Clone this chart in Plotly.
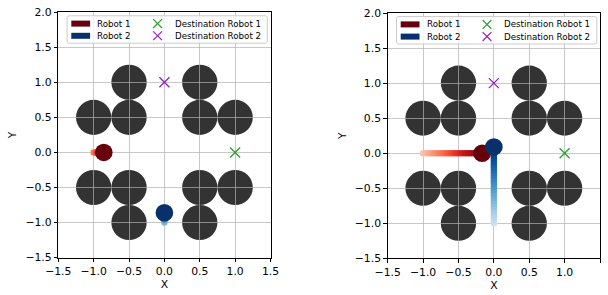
import plotly.graph_objects as go
from plotly.colors import sample_colorscale, sequential

# ---------------- data ----------------
obstacle_x = [-1.0, -0.5, -0.5, 0.5, 0.5, 1.0, -1.0, -0.5, -0.5, 0.5, 0.5, 1.0]
obstacle_y = [0.5, 0.5, 1.0, 1.0, 0.5, 0.5, -0.5, -0.5, -1.0, -1.0, -0.5, -0.5]
obstacle_r = 0.25
robot_r = 0.125

dest1 = (1.0, 0.0)
dest2 = (0.0, 1.0)

# snapshot 1 (left)
r1_left_x = [-1.0, -0.965, -0.93, -0.895, -0.857]
r1_left_y = [0.0, 0.0, 0.0, 0.0, 0.0]
r2_left_x = [0.0, 0.0, 0.0, 0.0, 0.0]
r2_left_y = [-1.0, -0.965, -0.93, -0.895, -0.86]

# snapshot 2 (right)
r1_right_x = [-1.0, -0.96, -0.92, -0.88, -0.84, -0.80, -0.76, -0.72, -0.68, -0.64, -0.60,
              -0.56, -0.52, -0.48, -0.44, -0.40, -0.36, -0.32, -0.28, -0.24, -0.20, -0.166]
r1_right_y = [0.0] * len(r1_right_x)
r2_right_y = [-1.0, -0.96, -0.92, -0.88, -0.84, -0.80, -0.76, -0.72, -0.68, -0.64, -0.60,
              -0.56, -0.52, -0.48, -0.44, -0.40, -0.36, -0.32, -0.28, -0.24, -0.20, -0.16,
              -0.12, -0.08, -0.04, 0.0, 0.04, 0.09]
r2_right_x = [0.0] * len(r2_right_y)

x_ticks = [-1.5, -1.0, -0.5, 0.0, 0.5, 1.0, 1.5]
y_ticks = [-1.5, -1.0, -0.5, 0.0, 0.5, 1.0, 1.5, 2.0]
legend_labels = ["Robot 1", "Robot 2", "Destination Robot 1", "Destination Robot 2"]

# ---------------- style ----------------
W, H = 608, 295
FONT = "DejaVu Sans"
RED_DARK = "#67000d"
BLUE_DARK = "#08306b"
GREEN = "#2ca02c"
PURPLE = "#9a1fc0"
OBST = "rgba(0,0,0,0.8)"
GRID = "rgba(176,176,176,0.7)"
TICK_SIZE = 10.8

areas = [
    (58.3, 12.2, 270.5, 257.6),
    (387.7, 13.0, 600.0, 258.4),
]

def fmt(v):
    return f"{v:.1f}".replace("-", "\u2212")

def px(x):
    return x / W

def py(y):
    return 1 - y / H

fig = go.Figure()

snapshots = [
    (r1_left_x, r1_left_y, r2_left_x, r2_left_y, 0.45),
    (r1_right_x, r1_right_y, r2_right_x, r2_right_y, 0.22),
]

shapes = []
annotations = []

for i, (area, snap) in enumerate(zip(areas, snapshots)):
    ax = "" if i == 0 else str(i + 1)
    xref, yref = "x" + ax, "y" + ax
    x0, y0, x1, y1 = area
    fig.layout["xaxis" + ax] = dict(
        domain=[px(x0), px(x1)], range=[-1.5, 1.5], anchor=yref, automargin=False,
        tickvals=x_ticks, ticktext=[fmt(v) for v in x_ticks],
        showgrid=True, gridcolor=GRID, gridwidth=0.8, zeroline=False,
        showline=True, mirror=True, linecolor="black", linewidth=0.8,
        ticks="outside", ticklen=3.6, tickwidth=0.8, tickcolor="black",
        tickfont=dict(family=FONT, size=TICK_SIZE, color="black"),
        title=dict(text="X", font=dict(family=FONT, size=TICK_SIZE, color="black"), standoff=3),
    )
    fig.layout["yaxis" + ax] = dict(
        domain=[py(y1), py(y0)], range=[-1.5, 2.0], anchor=xref, automargin=False,
        tickvals=y_ticks, ticktext=[fmt(v) for v in y_ticks],
        showgrid=True, gridcolor=GRID, gridwidth=0.8, zeroline=False,
        showline=True, mirror=True, linecolor="black", linewidth=0.8,
        ticks="outside", ticklen=3.6, tickwidth=0.8, tickcolor="black",
        tickfont=dict(family=FONT, size=TICK_SIZE, color="black"),
        title=dict(text="Y", font=dict(family=FONT, size=TICK_SIZE, color="black"), standoff=6),
    )

    # obstacles
    for ox, oy in zip(obstacle_x, obstacle_y):
        shapes.append(dict(type="circle", xref=xref, yref=yref, layer="below",
                           x0=ox - obstacle_r, x1=ox + obstacle_r,
                           y0=oy - obstacle_r, y1=oy + obstacle_r,
                           fillcolor=OBST, line=dict(width=0)))

    r1x, r1y, r2x, r2y, tstart = snap
    # trails
    for tx, ty, scale in ((r1x, r1y, sequential.Reds), (r2x, r2y, sequential.Blues)):
        n = len(tx)
        ts = [min(0.999, round(tstart + (1 - tstart) * k / (n - 1), 4)) for k in range(n)]
        cols = sample_colorscale(scale, ts)
        fig.add_trace(go.Scatter(x=tx, y=ty, mode="markers", xaxis=xref, yaxis=yref,
                                 marker=dict(size=6.5, color=cols, line=dict(width=0)),
                                 showlegend=False, hoverinfo="skip"))
    # robots
    for cx, cy, col in ((r1x[-1], r1y[-1], RED_DARK), (r2x[-1], r2y[-1], BLUE_DARK)):
        shapes.append(dict(type="circle", xref=xref, yref=yref, layer="above",
                           x0=cx - robot_r, x1=cx + robot_r,
                           y0=cy - robot_r, y1=cy + robot_r,
                           fillcolor=col, line=dict(width=0)))
    # destinations
    for d, col in ((dest1, GREEN), (dest2, PURPLE)):
        fig.add_trace(go.Scatter(x=[d[0]], y=[d[1]], mode="markers", xaxis=xref, yaxis=yref,
                                 marker=dict(symbol="x-thin", size=10, line=dict(width=1.3, color=col)),
                                 showlegend=False, hoverinfo="skip"))

    # ---- legend (drawn in paper coords) ----
    bx0 = x0 + 8.8
    bx1 = x1 - 3.2
    by0 = y0 + 3.6
    by1 = by0 + 27.4
    rr = 2.0
    path = (f"M {px(bx0 + rr)},{py(by0)} L {px(bx1 - rr)},{py(by0)} "
            f"Q {px(bx1)},{py(by0)} {px(bx1)},{py(by0 + rr)} "
            f"L {px(bx1)},{py(by1 - rr)} Q {px(bx1)},{py(by1)} {px(bx1 - rr)},{py(by1)} "
            f"L {px(bx0 + rr)},{py(by1)} Q {px(bx0)},{py(by1)} {px(bx0)},{py(by1 - rr)} "
            f"L {px(bx0)},{py(by0 + rr)} Q {px(bx0)},{py(by0)} {px(bx0 + rr)},{py(by0)} Z")
    shapes.append(dict(type="path", xref="paper", yref="paper", layer="above", path=path,
                       fillcolor="rgba(255,255,255,0.8)", line=dict(color="#cccccc", width=1)))
    rows = [by0 + 7.8, by0 + 20.0]
    for row, col in zip(rows, (RED_DARK, BLUE_DARK)):
        shapes.append(dict(type="rect", xref="paper", yref="paper", layer="above",
                           x0=px(bx0 + 4.2), x1=px(bx0 + 23.0),
                           y0=py(row - 3.0), y1=py(row + 3.0),
                           fillcolor=col, line=dict(width=0)))
    for row, col in zip(rows, (GREEN, PURPLE)):
        cxp = bx0 + 90.5
        hs = 4.4
        for sgn in (1, -1):
            shapes.append(dict(type="line", xref="paper", yref="paper", layer="above",
                               x0=px(cxp - hs), x1=px(cxp + hs),
                               y0=py(row - sgn * hs), y1=py(row + sgn * hs),
                               line=dict(color=col, width=1.2)))
    for k, lab in enumerate(legend_labels):
        tx = bx0 + 28.0 if k < 2 else bx0 + 105.5
        row = rows[k % 2]
        annotations.append(dict(xref="paper", yref="paper", x=px(tx), y=py(row),
                                xanchor="left", yanchor="middle", text=lab, showarrow=False,
                                font=dict(family=FONT, size=8.7, color="black")))

fig.update_layout(
    width=W, height=H, margin=dict(l=0, r=0, t=0, b=0, autoexpand=False),
    paper_bgcolor="white", plot_bgcolor="white",
    shapes=shapes, annotations=annotations, showlegend=False,
    font=dict(family=FONT, color="black"),
)

fig.write_html("out.html",
               config={"displayModeBar": False},
               post_script="document.body.style.margin='0';document.body.style.overflow='hidden';")
